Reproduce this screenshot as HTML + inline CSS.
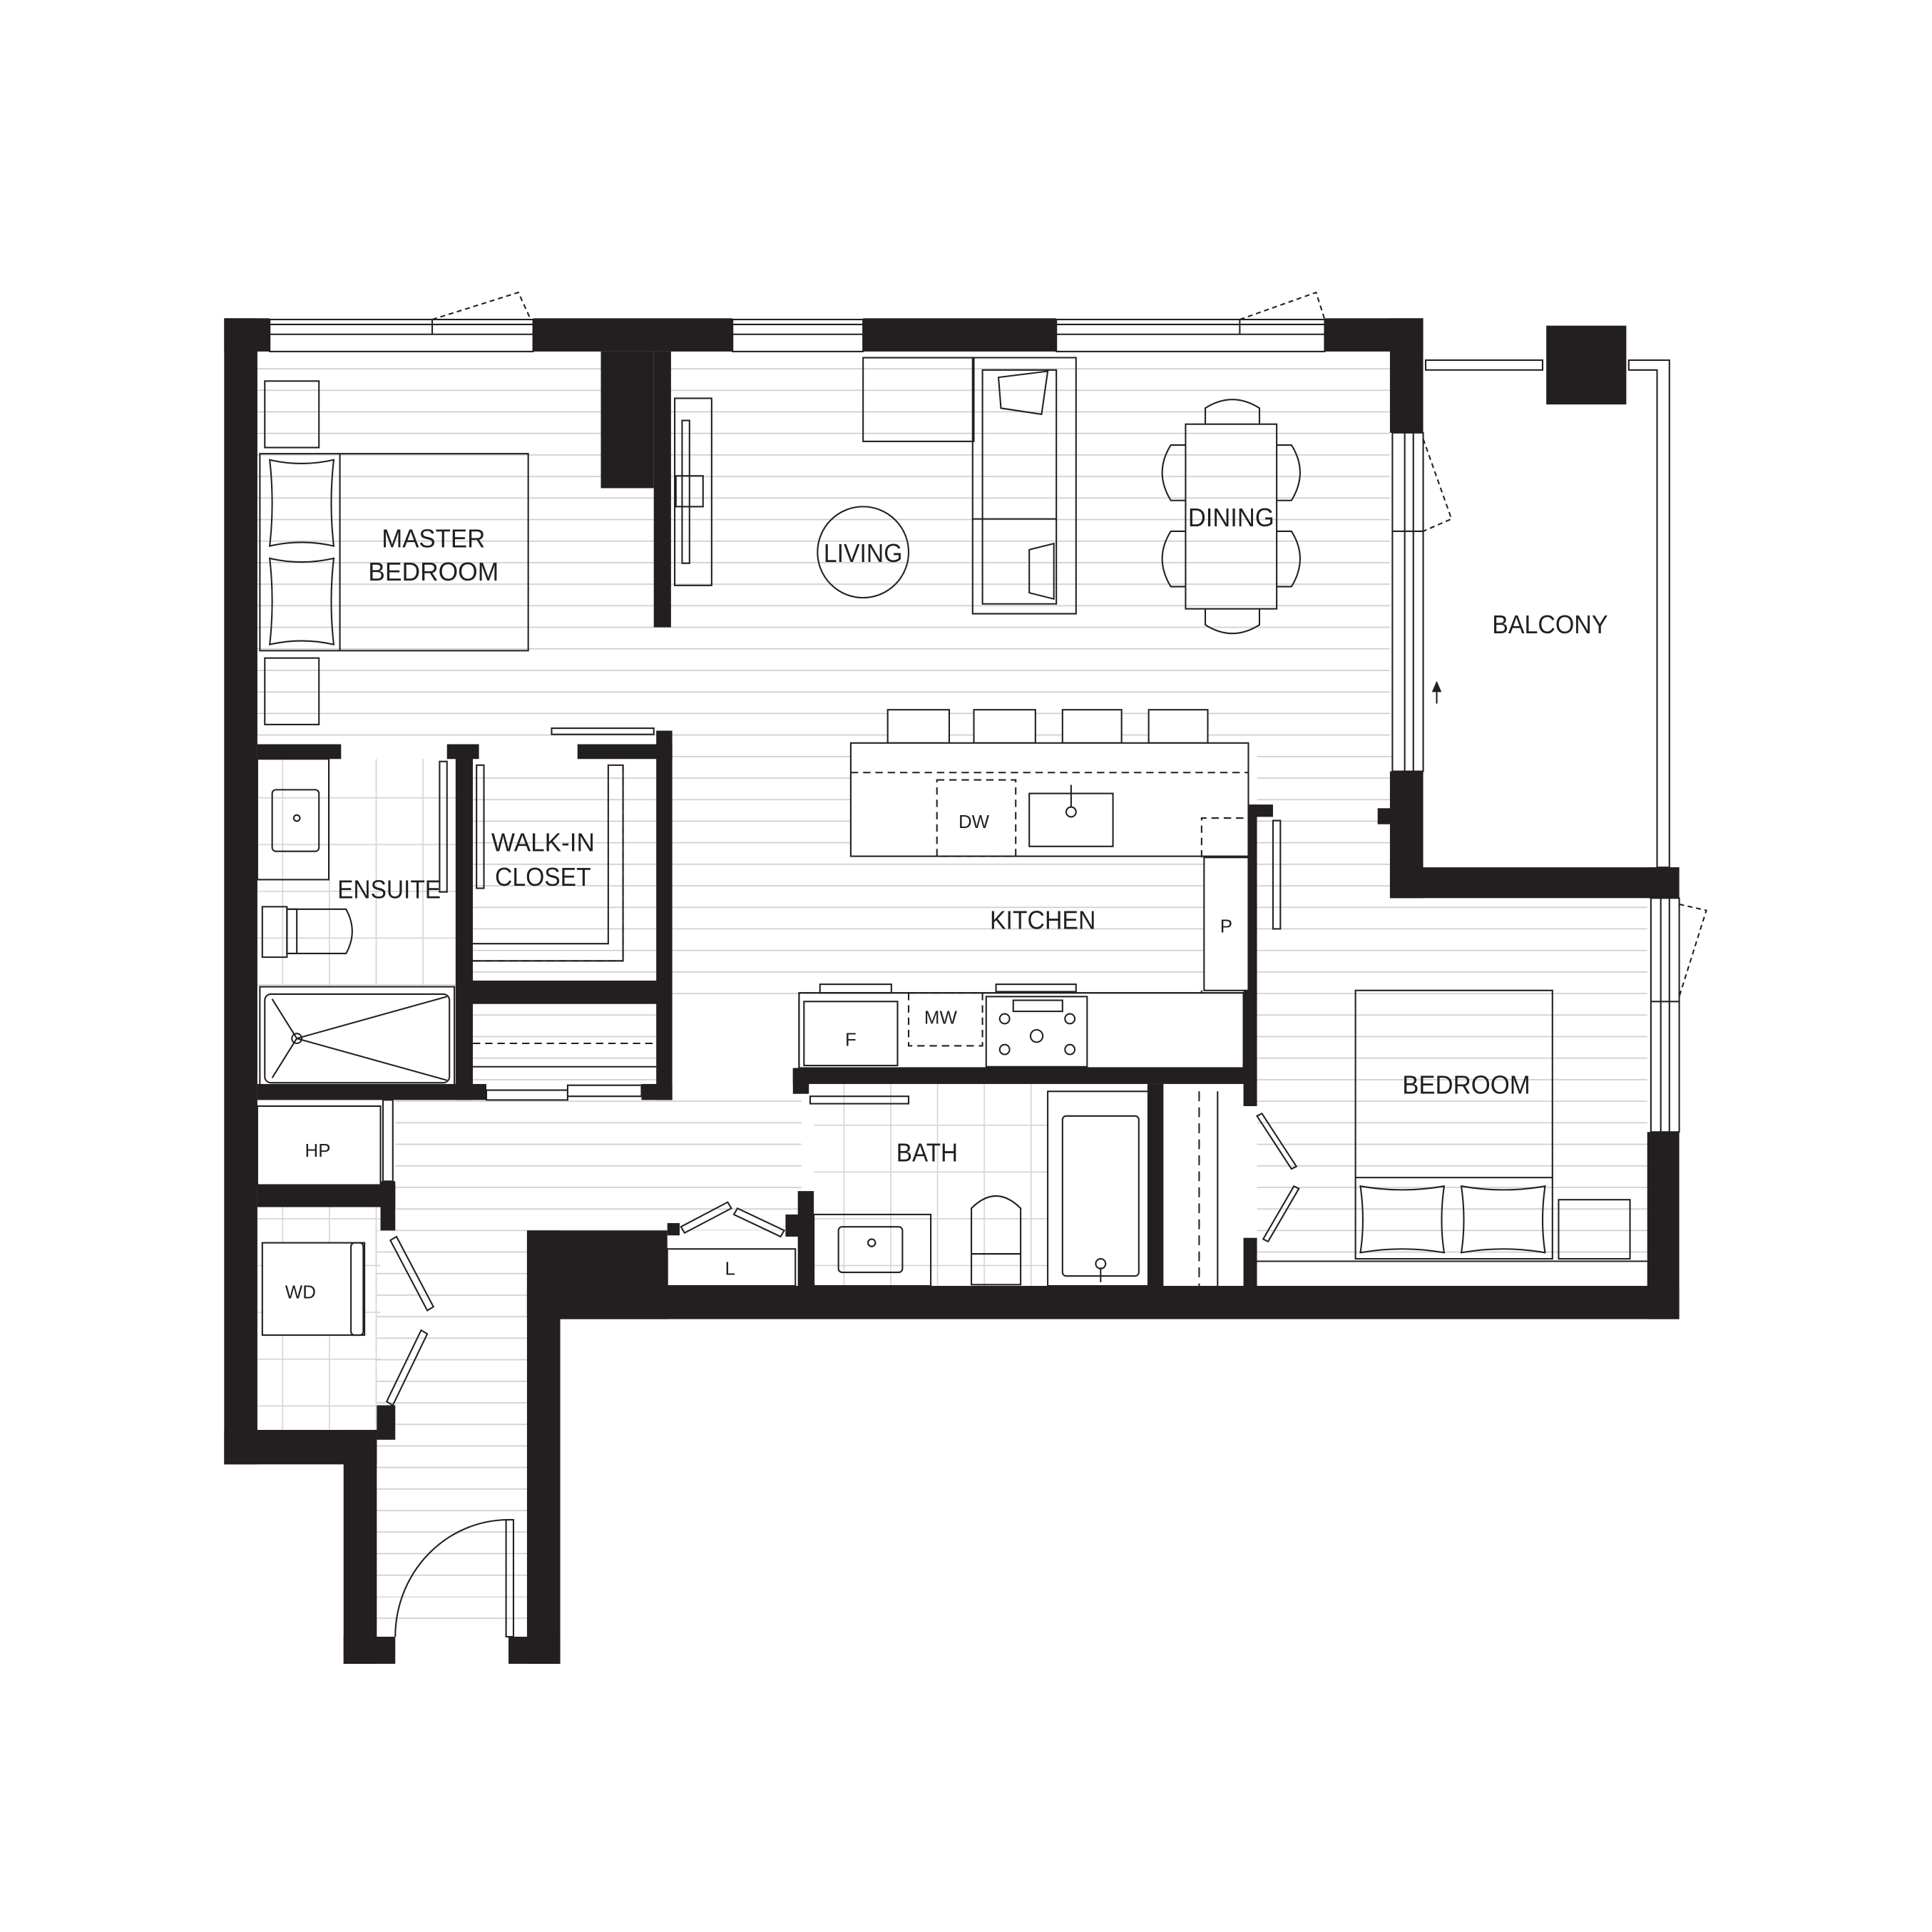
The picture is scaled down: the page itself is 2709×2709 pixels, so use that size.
<!DOCTYPE html>
<html><head><meta charset="utf-8"><style>html,body{margin:0;padding:0;background:#fff}svg{display:block}text{font-family:"Liberation Sans",sans-serif;fill:#231f20}</style></head>
<body>
<svg width="2709" height="2709" viewBox="0 0 1560 1560" xmlns="http://www.w3.org/2000/svg">
<defs>
<pattern id="fl" width="20" height="17.5" patternUnits="userSpaceOnUse"><line x1="0" y1="0.5" x2="20" y2="0.5" stroke="#cfcfcf" stroke-width="1"/></pattern>
<pattern id="tl" width="38" height="38" patternUnits="userSpaceOnUse"><path d="M0 .5H38M.5 0V38" stroke="#d6d6d6" stroke-width="1" fill="none"/></pattern>
</defs>
<rect width="1560" height="1560" fill="#fff"/>
<g transform="translate(181,257) scale(0.994) translate(-181,-257)">
<rect x="208" y="284" width="920" height="320" fill="url(#fl)"/>
<rect x="545" y="600" width="465" height="210" fill="url(#fl)"/>
<rect x="1020" y="600" width="110" height="120" fill="url(#fl)"/>
<rect x="1020" y="728" width="317" height="295" fill="url(#fl)"/>
<rect x="383" y="615" width="150" height="180" fill="url(#fl)"/>
<rect x="383" y="814" width="150" height="70" fill="url(#fl)"/>
<rect x="320" y="892" width="330" height="106" fill="url(#fl)"/>
<rect x="305" y="998" width="122" height="330" fill="url(#fl)"/>
<rect x="208" y="615" width="162" height="185" fill="url(#tl)"/>
<rect x="208" y="979" width="100" height="181" fill="url(#tl)"/>
<rect x="660" y="879" width="190" height="164" fill="url(#tl)"/>
<g fill="#231f20">
<rect x="181" y="257" width="27" height="931"/>
<rect x="181" y="1160" width="124" height="28"/>
<rect x="278" y="1160" width="27" height="190"/>
<rect x="278" y="1328" width="42" height="22"/>
<rect x="305" y="1140" width="15" height="28"/>
<rect x="427" y="998" width="27" height="352"/>
<rect x="412" y="1328" width="42" height="22"/>
<rect x="181" y="257" width="37" height="27"/>
<rect x="432" y="257" width="162" height="27"/>
<rect x="700" y="257" width="157" height="27"/>
<rect x="1075" y="257" width="80" height="27"/>
<rect x="1128" y="257" width="27" height="93"/>
<rect x="1128" y="625" width="27" height="103"/>
<rect x="1118" y="655" width="12" height="13"/>
<rect x="1128" y="703" width="235" height="25"/>
<rect x="1337" y="703" width="26" height="25"/>
<rect x="1337" y="918" width="26" height="152"/>
<rect x="427" y="1043" width="936" height="27"/>
<rect x="427" y="998" width="114" height="72"/>
<rect x="541" y="992" width="10" height="10"/>
<rect x="1255" y="263" width="65" height="64"/>
<rect x="487" y="284" width="43" height="111"/>
<rect x="530" y="284" width="14" height="224"/>
<rect x="208" y="603" width="68" height="12"/>
<rect x="362" y="603" width="26" height="12"/>
<rect x="369" y="603" width="14" height="289"/>
<rect x="468" y="603" width="77" height="12"/>
<rect x="532" y="592" width="13" height="300"/>
<rect x="383" y="795" width="150" height="19"/>
<rect x="208" y="879" width="186" height="13"/>
<rect x="520" y="879" width="25" height="13"/>
<rect x="208" y="961" width="112" height="18"/>
<rect x="308" y="958" width="12" height="40"/>
<rect x="1009" y="652" width="11" height="245"/>
<rect x="1015" y="652" width="18" height="10"/>
<rect x="1009" y="1004" width="11" height="40"/>
<rect x="643" y="866" width="377" height="13"/>
<rect x="643" y="866" width="13" height="21"/>
<rect x="931" y="879" width="13" height="164"/>
<rect x="647" y="966" width="13" height="77"/>
<rect x="637" y="985" width="12" height="18"/>
</g>
<g fill="none" stroke="#231f20" stroke-width="1.2">
<rect x="218" y="258" width="214" height="26" fill="#fff"/><line x1="218" y1="262" x2="432" y2="262"/><line x1="218" y1="270" x2="432" y2="270"/><line x1="350" y1="258" x2="350" y2="270"/>
<rect x="594" y="258" width="106" height="26" fill="#fff"/><line x1="594" y1="262" x2="700" y2="262"/><line x1="594" y1="270" x2="700" y2="270"/>
<rect x="857" y="258" width="218" height="26" fill="#fff"/><line x1="857" y1="262" x2="1075" y2="262"/><line x1="857" y1="270" x2="1075" y2="270"/><line x1="1006" y1="258" x2="1006" y2="270"/>
<path d="M350 258 L420 236 L430 258" stroke-dasharray="4 3"/>
<path d="M1006 258 L1068 236 L1075 258" stroke-dasharray="4 3"/>
<rect x="1130" y="350" width="25" height="275" fill="#fff"/><line x1="1140" y1="350" x2="1140" y2="625"/><line x1="1147" y1="350" x2="1147" y2="625"/><line x1="1130" y1="430" x2="1155" y2="430"/>
<path d="M1155 355 L1178 420 L1155 430" stroke-dasharray="4 3"/>
<line x1="1166" y1="570" x2="1166" y2="555"/><path d="M1163 560 L1166 553 L1169 560Z" fill="#231f20"/>
<rect x="1340" y="728" width="23" height="190" fill="#fff"/><line x1="1348" y1="728" x2="1348" y2="918"/><line x1="1355" y1="728" x2="1355" y2="918"/><line x1="1340" y1="812" x2="1363" y2="812"/>
<path d="M1363 733 L1385 738 L1363 808" stroke-dasharray="4 3"/>
<rect x="1157" y="291" width="95" height="8"/>
<path d="M1322 291 H1355 V703 H1345 V299 H1322Z"/>
<rect x="214" y="308" width="44" height="54"/><rect x="214" y="533" width="44" height="54"/>
<rect x="210" y="367" width="218" height="160"/><line x1="275" y1="367" x2="275" y2="527"/>
<path d="M218 372 Q244 378 270 372 Q266 407 270 442 Q244 436 218 442 Q222 407 218 372Z"/>
<path d="M218 452 Q244 458 270 452 Q266 487 270 522 Q244 516 218 522 Q222 487 218 452Z"/>
<rect x="547" y="322" width="30" height="152"/><rect x="553" y="340" width="6" height="116"/><rect x="548" y="385" width="22" height="25"/>
<rect x="700" y="289" width="90" height="68"/>
<path d="M789 289 H873 V497 H789Z"/><path d="M797 299 H857 V489 H797Z"/><line x1="789" y1="420" x2="857" y2="420"/>
<path d="M810 305 L850 300 L845 335 L812 330Z"/><path d="M835 445 L855 440 L855 485 L835 480Z"/>
<circle cx="700" cy="447" r="37"/>
<rect x="962" y="343" width="74" height="150"/>
<path d="M978 343 V330 Q1000 316 1022 330 V343"/><path d="M978 493 V506 Q1000 520 1022 506 V493"/>
<path d="M962 360 H950 Q936 382 950 405 H962"/><path d="M962 430 H950 Q936 452 950 475 H962"/>
<path d="M1036 360 H1048 Q1062 382 1048 405 H1036"/><path d="M1036 430 H1048 Q1062 452 1048 475 H1036"/>
<rect x="720" y="575" width="50" height="27" fill="#fff"/><rect x="790" y="575" width="50" height="27" fill="#fff"/><rect x="862" y="575" width="48" height="27" fill="#fff"/><rect x="932" y="575" width="48" height="27" fill="#fff"/>
<rect x="690" y="602" width="323" height="92" fill="#fff"/>
<line x1="690" y1="626" x2="1013" y2="626" stroke-dasharray="6 4"/>
<rect x="760" y="632" width="64" height="62" stroke-dasharray="6 4"/>
<rect x="835" y="643" width="68" height="43"/><circle cx="869" cy="658" r="4"/><line x1="869" y1="636" x2="869" y2="654"/>
<rect x="977" y="695" width="36" height="108" fill="#fff"/>
<path d="M975 695 V663 H1009" stroke-dasharray="6 4"/>
<path d="M975 803 V838 H735" stroke-dasharray="6 4"/>
<rect x="648" y="805" width="361" height="61" fill="#fff"/>
<rect x="648" y="805" width="361" height="61"/>
<rect x="652" y="812" width="76" height="52"/><rect x="665" y="798" width="58" height="7"/>
<rect x="737" y="805" width="60" height="43" stroke-dasharray="6 4"/>
<rect x="800" y="808" width="82" height="57"/><rect x="808" y="798" width="65" height="6"/>
<circle cx="815" cy="826" r="4"/><circle cx="868" cy="826" r="4"/><circle cx="815" cy="851" r="4"/><circle cx="868" cy="851" r="4"/><circle cx="841" cy="840" r="5"/>
<rect x="822" y="811" width="40" height="9"/>
<rect x="1033" y="665" width="6" height="88"/>
<rect x="657" y="889" width="80" height="6"/>
<rect x="850" y="885" width="85" height="158"/><rect x="862" y="905" width="62" height="130" rx="3"/>
<circle cx="893" cy="1025" r="4"/><line x1="893" y1="1028" x2="893" y2="1040"/>
<rect x="660" y="985" width="95" height="58"/><rect x="680" y="995" width="52" height="37" rx="3"/><circle cx="707" cy="1008" r="3"/>
<path d="M788 1017 V980 Q808 960 828 980 V1017Z"/><rect x="788" y="1017" width="40" height="25"/>
<line x1="973" y1="885" x2="973" y2="1043" stroke-dasharray="8 5"/><line x1="988" y1="885" x2="988" y2="1043"/>
<path d="M1020 905 L1048 948 L1052 946 L1024 903Z"/><path d="M1050 962 L1025 1005 L1029 1007 L1054 964Z"/>
<rect x="1100" y="803" width="160" height="218"/><line x1="1100" y1="955" x2="1260" y2="955"/>
<path d="M1104 962 Q1138 968 1172 962 Q1168 990 1172 1016 Q1138 1010 1104 1016 Q1108 990 1104 962Z"/>
<path d="M1186 962 Q1220 968 1254 962 Q1250 990 1254 1016 Q1220 1010 1186 1016 Q1190 990 1186 962Z"/>
<rect x="1265" y="973" width="58" height="48"/>
<line x1="1020" y1="1023" x2="1337" y2="1023"/>
<rect x="208" y="615" width="58" height="98"/><rect x="220" y="640" width="38" height="50" rx="3"/><circle cx="240" cy="663" r="2.5"/>
<path d="M212 735 H232 V776 H212Z"/><path d="M232 737 H280 Q290 755 280 773 H232"/><rect x="232" y="737" width="8" height="36"/>
<rect x="356" y="617" width="6" height="106"/>
<rect x="386" y="620" width="6" height="100"/>
<rect x="210" y="800" width="158" height="82"/><rect x="214" y="806" width="150" height="72" rx="5"/>
<path d="M220 810 L240 842 L362 808 M240 842 L362 876 M240 842 L220 874"/><circle cx="240" cy="842" r="4"/>
<path d="M383 765 H493 V620 H505 V779 H383"/>
<line x1="505" y1="620" x2="505" y2="779" stroke-dasharray="6 4"/>
<line x1="383" y1="779" x2="505" y2="779" stroke-dasharray="6 4"/>
<line x1="383" y1="846" x2="532" y2="846" stroke-dasharray="6 4"/>
<line x1="383" y1="865" x2="532" y2="865"/>
<rect x="447" y="590" width="83" height="5"/>
<path d="M394 884 H460 V892 H394Z M460 880 H520 V889 H460Z"/>
<rect x="208" y="897" width="100" height="64" fill="#fff"/>
<rect x="310" y="892" width="8" height="66"/>
<rect x="212" y="1008" width="83" height="75" fill="#fff"/><rect x="284" y="1008" width="10" height="75" rx="3"/>
<path d="M316 1006 L346 1063 L351 1060 L321 1003Z"/><path d="M346 1082 L318 1140 L313 1137 L341 1079Z"/>
<rect x="541" y="1013" width="104" height="30" fill="#fff"/>
<path d="M552 995 L590 975 L593 980 L555 1000Z"/><path d="M598 980 L636 998 L633 1003 L595 985Z"/>
<rect x="410" y="1233" width="6" height="95"/>
<path d="M320 1328 A92 95 0 0 1 412 1233"/>
</g>
<g font-size="21" text-anchor="middle">
<text x="351" y="443" textLength="84" lengthAdjust="spacingAndGlyphs">MASTER</text>
<text x="351" y="470" textLength="106" lengthAdjust="spacingAndGlyphs">BEDROOM</text>
<text x="700" y="455" textLength="64" lengthAdjust="spacingAndGlyphs">LIVING</text>
<text x="999" y="426" textLength="70" lengthAdjust="spacingAndGlyphs">DINING</text>
<text x="1258" y="513" textLength="94" lengthAdjust="spacingAndGlyphs">BALCONY</text>
<text x="315" y="728" textLength="84" lengthAdjust="spacingAndGlyphs">ENSUITE</text>
<text x="440" y="690" textLength="84" lengthAdjust="spacingAndGlyphs">WALK-IN</text>
<text x="440" y="718" textLength="78" lengthAdjust="spacingAndGlyphs">CLOSET</text>
<text x="846" y="753" textLength="86" lengthAdjust="spacingAndGlyphs">KITCHEN</text>
<text x="752" y="942" textLength="50" lengthAdjust="spacingAndGlyphs">BATH</text>
<text x="1190" y="887" textLength="104" lengthAdjust="spacingAndGlyphs">BEDROOM</text>
</g>
<g font-size="15" text-anchor="middle">
<text x="790" y="671">DW</text><text x="763" y="830">MW</text><text x="690" y="848">F</text><text x="995" y="756">P</text>
<text x="257" y="938">HP</text><text x="243" y="1053">WD</text><text x="592" y="1034">L</text>
</g>
</g>
</svg>
</body></html>
